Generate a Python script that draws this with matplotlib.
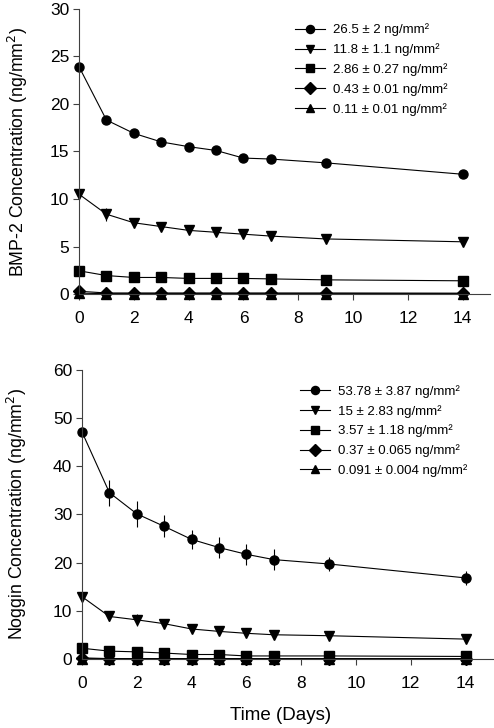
import numpy as np
import matplotlib.pyplot as plt

plt.rcParams['font.family'] = ['Liberation Sans', 'DejaVu Sans']

days = [0, 1, 2, 3, 4, 5, 6, 7, 9, 14]
markers = ['o', 'v', 's', 'D', '^']

# BMP-2 release (ng/mm^2)
bmp_labels = ['26.5 ± 2 ng/mm²', '11.8 ± 1.1 ng/mm²', '2.86 ± 0.27 ng/mm²',
              '0.43 ± 0.01 ng/mm²', '0.11 ± 0.01 ng/mm²']
bmp_a = [23.9, 18.3, 16.9, 16.0, 15.5, 15.1, 14.3, 14.2, 13.8, 12.6]
bmp_b = [10.5, 8.4, 7.5, 7.1, 6.7, 6.5, 6.3, 6.1, 5.8, 5.5]
bmp_c = [2.45, 1.95, 1.75, 1.75, 1.65, 1.65, 1.65, 1.6, 1.5, 1.4]
bmp_d = [0.3, 0.12, 0.12, 0.12, 0.12, 0.12, 0.12, 0.12, 0.12, 0.1]
bmp_e = [0.1, 0.05, 0.05, 0.05, 0.05, 0.05, 0.05, 0.05, 0.05, 0.05]
bmp_err_a = [0.3, 0.3, 0.3, 0.3, 0.3, 0.3, 0.3, 0.3, 0.3, 0.3]
bmp_err_b = [0.3, 0.7, 0.3, 0.2, 0.2, 0.2, 0.2, 0.2, 0.2, 0.2]
bmp_err_c = [0.1, 0.1, 0.1, 0.1, 0.1, 0.1, 0.1, 0.1, 0.1, 0.1]
bmp_err_d = [0.02] * 10
bmp_err_e = [0.01] * 10

# Noggin release (ng/mm^2)
nog_labels = ['53.78 ± 3.87 ng/mm²', '15 ± 2.83 ng/mm²', '3.57 ± 1.18 ng/mm²',
              '0.37 ± 0.065 ng/mm²', '0.091 ± 0.004 ng/mm²']
nog_a = [47.1, 34.5, 30.1, 27.5, 24.8, 23.1, 21.7, 20.6, 19.7, 16.8]
nog_b = [12.9, 8.8, 8.1, 7.3, 6.2, 5.7, 5.3, 5.0, 4.8, 4.1]
nog_c = [2.2, 1.6, 1.45, 1.2, 0.9, 0.9, 0.6, 0.6, 0.6, 0.5]
nog_d = [0.2, 0.05, 0.05, 0.05, 0.05, 0.05, 0.05, 0.05, 0.05, 0.05]
nog_e = [0.05, 0.03, 0.03, 0.03, 0.03, 0.03, 0.03, 0.03, 0.03, 0.03]
nog_err_a = [0.5, 2.7, 2.7, 2.3, 1.9, 2.1, 2.2, 2.1, 1.5, 1.4]
nog_err_b = [0.5, 1.0, 1.3, 1.0, 0.8, 0.8, 0.8, 0.9, 0.7, 0.7]
nog_err_c = [0.5, 0.6, 0.6, 0.6, 0.6, 0.6, 0.6, 0.5, 0.5, 0.4]
nog_err_d = [0.05] * 10
nog_err_e = [0.01] * 10

fig = plt.figure(figsize=(4.94, 7.28), dpi=100)
ax1 = fig.add_axes([0.160, 0.596, 0.832, 0.392])
ax2 = fig.add_axes([0.166, 0.095, 0.832, 0.397])


def draw(ax, series, errs, labels, ymax, ystep, ylabel, legx, ylabx):
    for y, e, m, lab in zip(series, errs, markers, labels):
        ax.errorbar(days, y, yerr=e, color='black', fmt='none',
                    elinewidth=0.8, capsize=0, clip_on=False)
        ax.plot(days, y, color='black', marker=m, markersize=6.5,
                linewidth=0.8, label=lab, clip_on=False)
    ax.set_xlim(0, 15)
    ax.set_ylim(0, ymax)
    ax.set_xticks(range(0, 15, 2))
    ax.set_yticks(np.arange(0, ymax + 1, ystep))
    for s in ['top', 'right']:
        ax.spines[s].set_visible(False)
    for s in ['left', 'bottom']:
        ax.spines[s].set_color('#404040')
        ax.spines[s].set_linewidth(0.8)
    ax.tick_params(direction='out', length=4, width=0.8, color='#404040',
                   labelsize=12.5)
    ax.tick_params(axis='x', pad=8)
    ax.tick_params(axis='y', pad=3)
    ax.set_ylabel(ylabel, fontsize=12.8)
    ax.yaxis.set_label_coords(ylabx, 0.5)
    ax.legend(loc='upper left', bbox_to_anchor=(legx, 0.948), frameon=False,
              fontsize=9.5, handlelength=2.3, labelspacing=0.53,
              handletextpad=0.6, borderpad=0, borderaxespad=0, markerscale=0.9)


draw(ax1, [bmp_a, bmp_b, bmp_c, bmp_d, bmp_e],
     [bmp_err_a, bmp_err_b, bmp_err_c, bmp_err_d, bmp_err_e],
     bmp_labels, 30, 5, 'BMP-2 Concentration (ng/mm$^2$)', 0.525, -0.12)
draw(ax2, [nog_a, nog_b, nog_c, nog_d, nog_e],
     [nog_err_a, nog_err_b, nog_err_c, nog_err_d, nog_err_e],
     nog_labels, 60, 10, 'Noggin Concentration (ng/mm$^2$)', 0.53, -0.128)
ax2.set_xlabel('Time (Days)', fontsize=13.5)
ax2.xaxis.set_label_coords(0.484, -0.165)

fig.savefig('out.png', dpi=100)
